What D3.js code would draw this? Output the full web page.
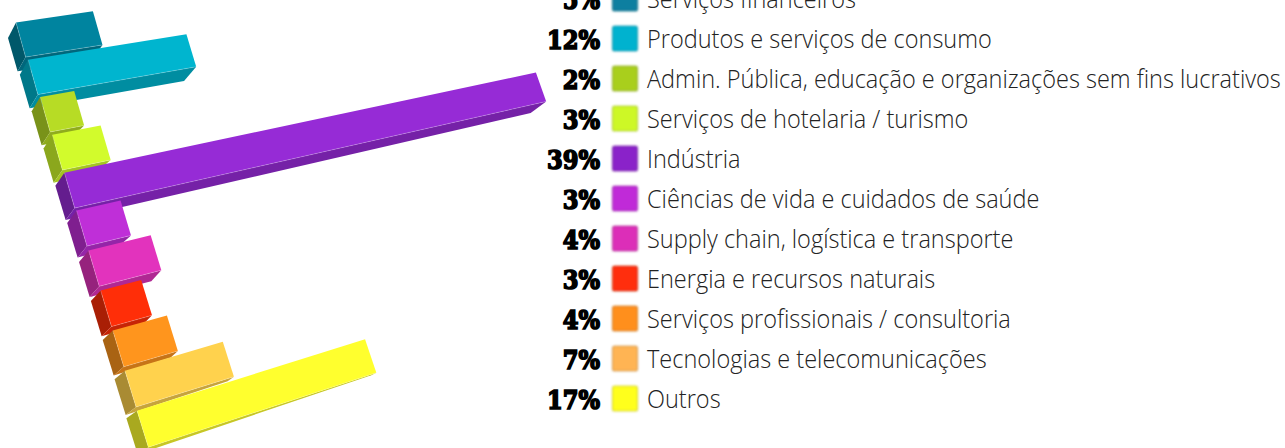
<!DOCTYPE html>
<html>
<head>
<meta charset="utf-8">
<script src="https://cdnjs.cloudflare.com/ajax/libs/d3/7.8.5/d3.min.js"></script>
<style>
html, body { margin: 0; background: #fff; }
svg { display: block; }
.name { font-family: "Open Sans", sans-serif; font-weight: 300; font-size: 25px; fill: #222; }
.pct { font-family: "DejaVu Serif", serif; font-weight: 700; font-size: 26px; fill: #000; stroke: #000; stroke-width: 1.7px; text-anchor: end; }
</style>
</head>
<body>
<svg id="chart" width="1285" height="448">
    <defs>
        <filter id="soft" x="-20%" y="-20%" width="140%" height="140%">
            <feGaussianBlur stdDeviation="0.8"></feGaussianBlur>
        </filter>
    </defs>
</svg>
<script>
'use strict';

var categories = [
    'Serviços financeiros',
    'Produtos e serviços de consumo',
    'Admin. Pública, educação e organizações sem fins lucrativos',
    'Serviços de hotelaria / turismo',
    'Indústria',
    'Ciências de vida e cuidados de saúde',
    'Supply chain, logística e transporte',
    'Energia e recursos naturais',
    'Serviços profissionais / consultoria',
    'Tecnologias e telecomunicações',
    'Outros'
];

// shares, the labels show them rounded
var shares = [5.2, 11.6, 2.1, 3.1, 39, 2.8, 4.1, 2.55, 3.52, 6.8, 17.4];

var colors = ['#00849f', '#00b5cf', '#b7dc25', '#d2fb2c', '#962bd6', '#bf2fd8',
    '#e233bd', '#ff2e08', '#ff951d', '#ffd24d', '#ffff2e'];

var swatchColors = ['#0b7fa0', '#00b2cf', '#a9cf1e', '#cdf826', '#8a22c9', '#c02bd8',
    '#dc2fb8', '#ff2e08', '#ff8f1a', '#ffb452', '#ffff1e'];

var rows = d3.range(categories.length);
var svg = d3.select('#chart');

// the chart is a bar chart seen in perspective, one scale per projection term
var run = d3.scalePow().exponent(0.9).domain([0, 39]).range([0, 471.5]);
var originX = d3.scaleLinear().domain([0, 10]).range([16, 137]);
var originY = d3.scaleLinear().domain([0, 2, 5, 10]).range([22.5, 97, 210.5, 410.7]);
var slope = d3.scaleLinear().domain([0, 10]).range([-0.145, -0.313]);
var faceX = d3.scaleLinear().domain([0, 10]).range([9.6, 11.3]);
var faceY = d3.scaleLinear().domain([0, 10]).range([34.6, 36.6]);
var depthX = d3.scaleLinear().domain([0, 10]).range([-8, -10.6]);
var depthY = d3.scaleLinear().domain([0, 5, 10]).range([15.5, 12.5, 7.5]);
var farX = d3.scaleLinear().domain([0, 4, 6, 10]).range([-11, -15.5, -10, -5]);
var farY = d3.scaleLinear().domain([0, 4, 6, 10]).range([15, 11.5, 11, 2.5]);
var taper = d3.scaleLinear().domain([0, 471.5]).range([1, 0.815]);

function corners(i) {
    var len = run(shares[i]);
    var t = taper(len);
    var tl = [originX(i), originY(i)];
    var tr = [tl[0] + len, tl[1] + len * slope(i)];
    var bl = [tl[0] + faceX(i), tl[1] + faceY(i)];
    var br = [tr[0] + faceX(i), tr[1] + faceY(i) * t];
    return {
        tl: tl, tr: tr, bl: bl, br: br,
        stl: [tl[0] + depthX(i), tl[1] + depthY(i)],
        sbl: [bl[0] + depthX(i), bl[1] + depthY(i) * 0.92],
        sbr: [br[0] + farX(i), br[1] + farY(i)]
    };
}

var line = d3.line();

var bars = svg.append('g').selectAll('g')
    .data(rows)
    .enter()
    .append('g');

bars.append('path')
    .attr('d', function (i) {
        var c = corners(i);
        return line([c.tl, c.stl, c.sbl, c.bl]) + 'Z';
    })
    .attr('fill', function (i) { return d3.rgb(colors[i]).darker(1.15); });

bars.append('path')
    .attr('d', function (i) {
        var c = corners(i);
        return line([c.bl, c.br, c.sbr, c.sbl]) + 'Z';
    })
    .attr('fill', function (i) { return d3.rgb(colors[i]).darker(0.7); });

bars.append('path')
    .attr('d', function (i) {
        var c = corners(i);
        return line([c.tl, c.tr, c.br, c.bl]) + 'Z';
    })
    .attr('fill', function (i) { return colors[i]; });

// thin highlight on the front edges
bars.append('path')
    .attr('d', function (i) {
        var c = corners(i);
        return line([c.tl, c.bl, c.br]);
    })
    .attr('fill', 'none')
    .attr('stroke', '#fff')
    .attr('stroke-opacity', 0.3)
    .attr('stroke-width', 0.7);

// legend
var rowY = d3.scalePoint().domain(rows).range([-0.5, 399.5]);
var pct = d3.format('.0f');

var legend = svg.append('g').selectAll('g')
    .data(rows)
    .enter()
    .append('g')
    .attr('transform', function (i) { return 'translate(0,' + rowY(i) + ')'; });

var pcts = legend.append('text')
    .attr('class', 'pct')
    .attr('y', 9.5)
    .text(function (i) { return pct(shares[i]) + '%'; });

legend.append('rect')
    .attr('x', 612.5)
    .attr('y', -13.5)
    .attr('width', 25)
    .attr('height', 25)
    .attr('rx', 2)
    .attr('fill', function (i) { return swatchColors[i]; })
    .attr('stroke', function (i) { return d3.rgb(swatchColors[i]).darker(0.8); })
    .attr('stroke-opacity', 0.65)
    .attr('stroke-width', 1.2)
    .attr('filter', 'url(#soft)');

var names = legend.append('text')
    .attr('class', 'name')
    .attr('y', 8.5)
    .text(function (i) { return categories[i]; });

// squeeze the texts so the widest ones span what they span in the picture
var widestName = d3.max(names.nodes(), function (n) { return n.getComputedTextLength(); });
names.attr('transform', 'translate(647,0) scale(' + (634 / widestName) + ',1)');

var widestPct = d3.max(pcts.nodes(), function (n) { return n.getComputedTextLength(); });
pcts.attr('transform', 'translate(600,0) scale(' + (53 / widestPct) + ',1)');
</script>
</body>
</html>
